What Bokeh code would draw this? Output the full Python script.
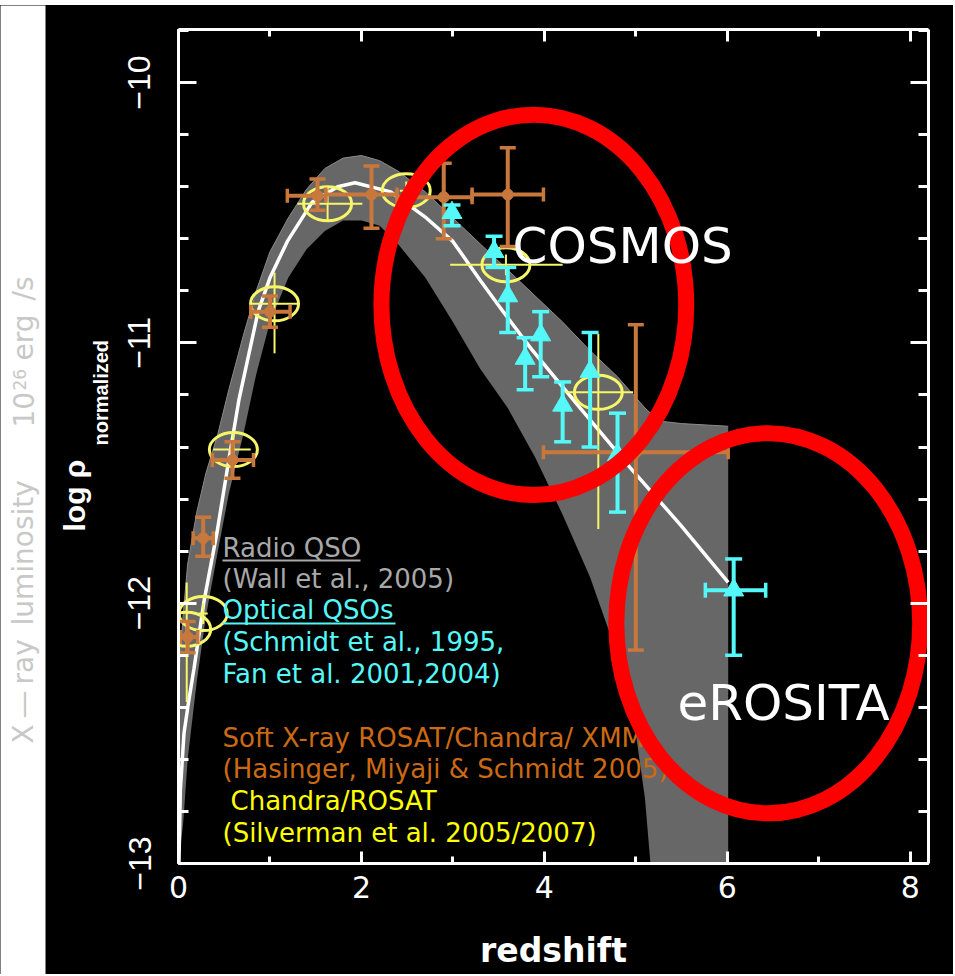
import math
from bokeh.plotting import figure
from bokeh.models import (Range1d, LinearAxis, SingleIntervalTicker,
                          CustomJSTickFormatter, Label)
from bokeh.layouts import row, column
from bokeh.core.properties import value
from bokeh.embed import file_html
from bokeh.resources import INLINE

# ---------------- data ----------------
# envelope of the model realisations (grey band)
band_z = [0.0, 0.05, 0.1, 0.2, 0.3, 0.43, 0.55, 0.71, 0.85, 1.0, 1.2, 1.4, 1.6, 1.8,
          2.0, 2.2, 2.4, 2.7, 3.0, 3.3, 3.6, 3.9, 4.2, 4.5, 4.8, 5.0, 5.1, 5.16,
          5.25, 5.5, 6.0, 6.01]
band_upper = [-12.3, -12.05, -11.85, -11.65, -11.5, -11.35, -11.18, -10.97, -10.8,
              -10.65, -10.52, -10.41, -10.33, -10.29, -10.28, -10.3, -10.34, -10.42,
              -10.52, -10.62, -10.72, -10.82, -10.92, -11.03, -11.13, -11.21, -11.25,
              -11.27, -11.3, -11.31, -11.32, -11.32]
band_lower = [-13.0, -12.85, -12.6, -12.3, -12.05, -11.8, -11.58, -11.35, -11.12,
              -10.92, -10.75, -10.64, -10.57, -10.53, -10.53, -10.55, -10.62, -10.75,
              -10.92, -11.1, -11.25, -11.44, -11.66, -11.9, -12.2, -12.5, -12.75,
              -13.0, -13.0, -13.0, -13.0, -13.0]

# best-fit model (white curve)
fit_z = [0.005, 0.02, 0.06, 0.11, 0.17, 0.28, 0.42, 0.55, 0.66, 0.87, 1.0, 1.19,
         1.46, 1.74, 1.93, 2.32, 2.71, 3.0, 3.3, 3.55, 3.85, 4.39, 4.94, 5.49, 6.01]
fit_logrho = [-13.0, -12.72, -12.5, -12.38, -12.25, -11.99, -11.73, -11.45, -11.22,
              -10.88, -10.75, -10.61, -10.46, -10.40, -10.385, -10.42, -10.52,
              -10.61, -10.76, -10.88, -11.02, -11.25, -11.48, -11.70, -11.92]

# Soft X-ray ROSAT/Chandra/XMM (Hasinger, Miyaji & Schmidt 2005)
xray_z = [0.10, 0.27, 0.59, 1.00, 1.52, 2.11, 2.90, 3.60, 5.00]
xray_logrho = [-12.13, -11.75, -11.45, -10.88, -10.435, -10.43, -10.44, -10.43, -11.42]
xray_z_lo = [0.02, 0.16, 0.37, 0.79, 1.19, 1.61, 2.39, 3.21, 3.99]
xray_z_hi = [0.21, 0.38, 0.82, 1.22, 1.61, 2.39, 3.21, 3.99, 6.01]
xray_lo = [-12.19, -11.82, -11.52, -10.94, -10.49, -10.56, -10.60, -10.63, -12.18]
xray_hi = [-12.07, -11.67, -11.38, -10.82, -10.37, -10.32, -10.31, -10.25, -10.93]

# Chandra/ROSAT (Silverman et al. 2005/2007)
silv_z = [0.09, 0.27, 0.60, 1.05, 1.63, 2.49, 3.58, 4.59]
silv_logrho = [-12.10, -12.04, -11.41, -10.85, -10.465, -10.415, -10.70, -11.19]
silv_z_lo = [0.09, 0.22, 0.38, 0.79, 1.30, 2.42, 2.97, 4.23]
silv_z_hi = [0.09, 0.32, 0.79, 1.30, 2.01, 2.56, 4.20, 4.97]
silv_lo = [-12.38, -12.08, -11.47, -11.04, -10.53, -10.45, -10.74, -11.715]
silv_hi = [-11.92, -12.00, -11.35, -10.73, -10.40, -10.38, -10.66, -10.965]

# Optical QSOs (Schmidt et al. 1995, Fan et al. 2001, 2004)
opt_z = [2.99, 3.45, 3.60, 3.79, 3.96, 4.20, 4.50, 4.80, 6.07]
opt_logrho = [-10.50, -10.65, -10.82, -11.06, -10.97, -11.24, -11.11, -11.43, -11.95]
opt_lo = [-10.55, -10.71, -10.96, -11.18, -11.13, -11.38, -11.40, -11.65, -12.20]
opt_hi = [-10.47, -10.59, -10.71, -10.98, -10.88, -11.15, -10.96, -11.27, -11.83]
opt_z_lo = [2.99, 3.45, 3.60, 3.79, 3.96, 4.20, 4.50, 4.80, 5.76]
opt_z_hi = [2.99, 3.45, 3.60, 3.79, 3.96, 4.20, 4.50, 4.80, 6.42]

# highlighted survey regions
zone_names = ["COSMOS", "eROSITA"]
zone_z = [3.885, 6.448]
zone_logrho = [-10.854, -12.077]
zone_dz = [3.333, 3.322]
zone_dlogrho = [1.4615, 1.4615]

# ticks
x_tick_step = 2
y_tick_step = 1

legend_lines = ["Radio QSO", "(Wall et al., 2005)", "Optical QSOs",
                "(Schmidt et al., 1995,", "Fan et al. 2001,2004)",
                "Soft X-ray ROSAT/Chandra/ XMM", "(Hasinger, Miyaji & Schmidt 2005)",
                "Chandra/ROSAT", "(Silverman et al. 2005/2007)"]

old_title_words = ["X", "\u2014", "ray", "luminosity", "10", "26", "erg", "/s"]

# ---------------- styling / geometry ----------------
GRAY_TXT = "#a8a8a8"
CYAN = "#55f8f8"
ORANGE_TXT = "#cc6a14"
BROWN = "#c8783c"
YELLOW = "#f6f66a"
YELLOW_TXT = "#ffff00"
BAND = "#676767"

PAGE_W, PAGE_H, TOP_GAP, STRIP_W = 953, 974, 5, 112
X_MIN, X_MAX = 0.0, 8.2
Y_MIN, Y_MAX = -13.0, -9.796
FRAME_L, FRAME_T, FRAME_W, FRAME_H = 178, 29, 750, 834   # page pixels
MID = 0.35   # em-box middle above the baseline


def px_x(px):
    return X_MIN + (px - FRAME_L) / FRAME_W * (X_MAX - X_MIN)


def px_y(py):
    return Y_MAX - (py - FRAME_T) / FRAME_H * (Y_MAX - Y_MIN)


p = figure(frame_width=FRAME_W, frame_height=FRAME_H,
           x_range=Range1d(X_MIN, X_MAX), y_range=Range1d(Y_MIN, Y_MAX),
           output_backend="svg", toolbar_location=None,
           x_axis_location=None, y_axis_location=None,
           min_border_left=FRAME_L - STRIP_W,
           min_border_right=PAGE_W - FRAME_L - FRAME_W,
           min_border_top=FRAME_T - TOP_GAP,
           min_border_bottom=PAGE_H - FRAME_T - FRAME_H,
           background_fill_color="black", border_fill_color="black",
           outline_line_color=None)
p.grid.grid_line_color = None
p.frame_align = False


def make_axis(dim, show_labels):
    if dim == "x":
        ax = LinearAxis(ticker=SingleIntervalTicker(interval=x_tick_step, num_minor_ticks=2))
        tin, mtin = 12, 7
    else:
        ax = LinearAxis(ticker=SingleIntervalTicker(interval=y_tick_step, num_minor_ticks=5))
        tin, mtin = 18, 10
    ax.axis_line_color = "white"
    ax.axis_line_width = 3
    ax.major_tick_line_color = "white"
    ax.major_tick_line_width = 3
    ax.minor_tick_line_color = "white"
    ax.minor_tick_line_width = 3
    ax.major_tick_in = tin
    ax.major_tick_out = 0
    ax.minor_tick_in = mtin
    ax.minor_tick_out = 0
    ax.major_label_text_color = "white"
    if not show_labels:
        ax.major_label_text_color = None
        ax.major_label_text_font_size = "8px"
        ax.major_label_standoff = 0
    return ax


ax_b = make_axis("x", True)
ax_b.major_label_text_font = "DejaVu Sans"
ax_b.major_label_text_font_size = "30px"
ax_b.major_label_standoff = 12
ax_b.axis_label = "redshift"
ax_b.axis_label_text_color = "white"
ax_b.axis_label_text_font = "DejaVu Sans"
ax_b.axis_label_text_font_style = "bold"
ax_b.axis_label_text_font_size = "33px"
ax_b.axis_label_standoff = 30
p.add_layout(ax_b, "below")

ax_l = make_axis("y", True)
ax_l.major_label_text_font = "Liberation Sans"
ax_l.major_label_text_font_size = "32px"
ax_l.major_label_orientation = "parallel"
ax_l.major_label_standoff = 28
ax_l.formatter = CustomJSTickFormatter(
    code="return (tick < 0 ? '\\u2212' : '') + Math.abs(tick).toString();")
p.add_layout(ax_l, "left")

p.add_layout(make_axis("x", False), "above")
p.add_layout(make_axis("y", False), "right")

# grey band of model realisations + best fit
p.varea(x=band_z, y1=band_lower, y2=band_upper, fill_color=BAND)
p.line(band_z, band_upper, line_color="#8a8a8a", line_width=1)
p.line(fit_z, fit_logrho, line_color="white", line_width=3.5)


def error_bars(z, y, zlo, zhi, ylo, yhi, color, width, cap):
    p.segment(x0=z, y0=ylo, x1=z, y1=yhi, line_color=color, line_width=width)
    hz = [(a, b, c) for a, b, c in zip(zlo, zhi, y) if b > a]
    if hz:
        p.segment(x0=[h[0] for h in hz], y0=[h[2] for h in hz],
                  x1=[h[1] for h in hz], y1=[h[2] for h in hz],
                  line_color=color, line_width=width)
    if cap:
        p.scatter(x=list(z) + list(z), y=list(ylo) + list(yhi), marker="dash",
                  size=cap, line_color=color, line_width=width - 0.5)
        if hz:
            p.scatter(x=[h[0] for h in hz] + [h[1] for h in hz],
                      y=[h[2] for h in hz] * 2, marker="dash", angle=math.pi / 2,
                      size=cap - 2, line_color=color, line_width=width - 0.5)


# Silverman (yellow open ellipses with cross hairs)
error_bars(silv_z, silv_logrho, silv_z_lo, silv_z_hi, silv_lo, silv_hi, YELLOW, 2, 0)
p.ellipse(x=silv_z, y=silv_logrho, width=48, height=34, width_units="screen",
          height_units="screen", fill_color=None, line_color=YELLOW, line_width=3)

# Hasinger (brown)
error_bars(xray_z, xray_logrho, xray_z_lo, xray_z_hi, xray_lo, xray_hi, BROWN, 4, 16)
p.scatter(x=xray_z, y=xray_logrho, marker="circle", size=11,
          fill_color=BROWN, line_color=BROWN)

# optical QSOs (cyan triangles)
error_bars(opt_z, opt_logrho, opt_z_lo, opt_z_hi, opt_lo, opt_hi, CYAN, 4, 17)
p.scatter(x=opt_z, y=opt_logrho, marker="triangle", size=20,
          fill_color=CYAN, line_color=CYAN)

# legend texts (left edge, baseline in page pixels)
LEG_FS = 26
leg_colors = [GRAY_TXT, GRAY_TXT, CYAN, CYAN, CYAN, ORANGE_TXT, ORANGE_TXT,
              YELLOW_TXT, YELLOW_TXT]
leg_left = [222, 222, 222, 222, 222, 222, 222, 230, 222]
leg_base = [557, 588, 619, 651, 683, 747, 778, 810, 842]
for t, c, lx, ly in zip(legend_lines, leg_colors, leg_left, leg_base):
    p.text(x=[px_x(lx)], y=[px_y(ly - MID * LEG_FS)], text=[t], text_color=c,
           text_font=value("DejaVu Sans"), text_font_size=f"{LEG_FS}px",
           text_align="left", text_baseline="middle")
# underlines of the two headers
p.segment(x0=[px_x(222), px_x(222)], y0=[px_y(560), px_y(623)],
          x1=[px_x(360), px_x(395)], y1=[px_y(560), px_y(623)],
          line_color=[GRAY_TXT, CYAN], line_width=2)

# red survey ellipses
p.ellipse(x=zone_z, y=zone_logrho, width=zone_dz, height=zone_dlogrho,
          fill_color=None, line_color="#ff0000", line_width=16)

ZONE_FS = 50
p.text(x=[px_x(512), px_x(677)],
       y=[px_y(263 - MID * ZONE_FS), px_y(720 - MID * ZONE_FS)], text=zone_names,
       text_color="white", text_font=value("DejaVu Sans"),
       text_font_size=f"{ZONE_FS}px", text_align="left", text_baseline="middle")

# ---- left strip: white margin with the faint old title + black band with y title
s = figure(width=STRIP_W, height=PAGE_H - TOP_GAP,
           x_range=Range1d(0, STRIP_W), y_range=Range1d(PAGE_H, TOP_GAP),
           output_backend="svg", toolbar_location=None,
           x_axis_location=None, y_axis_location=None, min_border=0,
           background_fill_color="black", border_fill_color="black",
           outline_line_color=None)
s.grid.grid_line_color = None
s.frame_align = False
s.quad(left=[-2], right=[45], top=[TOP_GAP - 2], bottom=[PAGE_H + 2],
       fill_color="white", line_color=None)

OLD_FS = 28
old_start = [743, 718, 684, 625, 427, 390, 360, 300]
old_base = [33, 33, 33, 33, 33, 25, 33, 33]
old_size = [OLD_FS, OLD_FS, OLD_FS, OLD_FS, OLD_FS, 17, OLD_FS, OLD_FS]
for w, y0, xb, fs in zip(old_title_words, old_start, old_base, old_size):
    s.add_layout(Label(x=xb - MID * fs, y=y0, text=w, angle=math.pi / 2,
                       text_color="#c8c8c8", text_font="DejaVu Sans",
                       text_font_size=f"{fs}px", text_align="left",
                       text_baseline="middle"))

s.add_layout(Label(x=84 - MID * 30, y=531, text="log \u03c1", angle=math.pi / 2,
                   text_color="white", text_font="Liberation Sans",
                   text_font_style="bold", text_font_size="30px",
                   text_align="left", text_baseline="middle"))
s.add_layout(Label(x=107 - MID * 20, y=445, text="normalized", angle=math.pi / 2,
                   text_color="white", text_font="Liberation Sans",
                   text_font_style="bold", text_font_size="20px",
                   text_align="left", text_baseline="middle"))

top = figure(width=PAGE_W, height=TOP_GAP, output_backend="svg",
             toolbar_location=None, x_axis_location=None, y_axis_location=None,
             min_border=0, background_fill_color="white",
             border_fill_color="white", outline_line_color=None)
top.grid.grid_line_color = None
top.frame_align = False

layout = column(top, row(s, p, styles={"background-color": "black"}))
open("out.html", "w").write(file_html(layout, INLINE))
